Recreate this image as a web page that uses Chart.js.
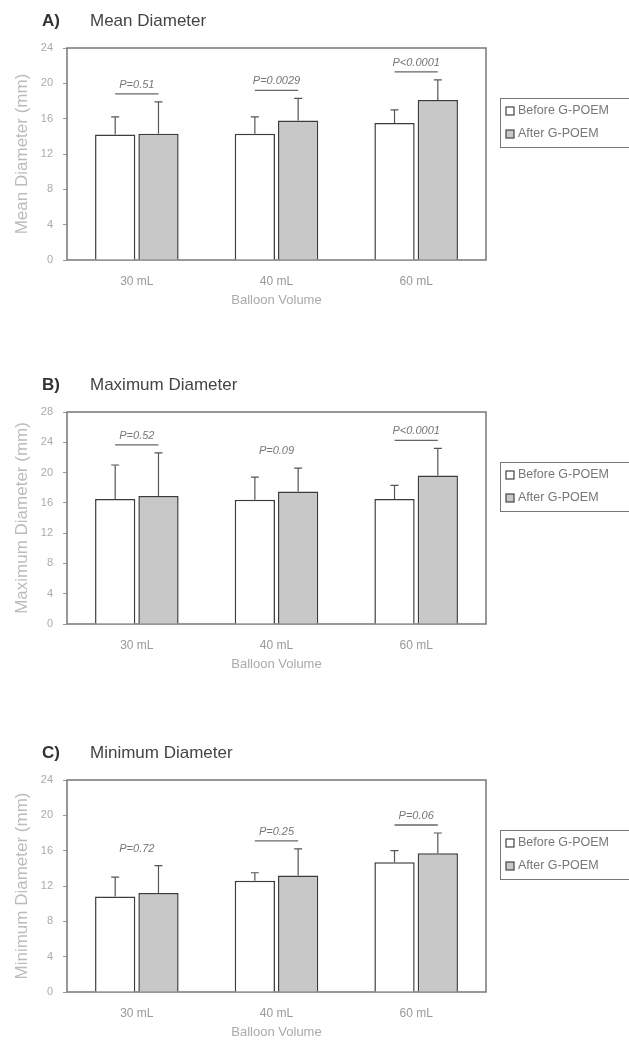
<!DOCTYPE html>
<html>
<head>
<meta charset="utf-8">
<script src="https://cdn.jsdelivr.net/npm/chart.js@4.4.1/dist/chart.umd.min.js"></script>
<style>
  html, body { margin: 0; padding: 0; background: #fff; }
  body { width: 629px; height: 1051px; position: relative; overflow: hidden; }
  .panel { position: absolute; left: 0; width: 629px; height: 322px; }
</style>
</head>
<body>
<div class="panel" style="top:0px"><canvas id="chartMean" width="629" height="322"></canvas></div>
<div class="panel" style="top:364px"><canvas id="chartMax" width="629" height="322"></canvas></div>
<div class="panel" style="top:732px"><canvas id="chartMin" width="629" height="322"></canvas></div>
<script>
// Balloon volumes and series
const volumes = ['30 mL', '40 mL', '60 mL'];
const seriesNames = ['Before G-POEM', 'After G-POEM'];
const xAxisTitle = 'Balloon Volume';

// Mean diameter (mm): means and standard deviations
const meanBefore = [14.2, 14.3, 15.5];
const meanBeforeSD = [2.0, 1.9, 1.5];
const meanAfter = [14.3, 15.8, 18.1];
const meanAfterSD = [3.6, 2.5, 2.3];
const meanP = ['P=0.51', 'P=0.0029', 'P<0.0001'];
const meanPLine = [true, true, true];

// Maximum diameter (mm)
const maxBefore = [16.5, 16.4, 16.5];
const maxBeforeSD = [4.5, 3.0, 1.8];
const maxAfter = [16.9, 17.5, 19.6];
const maxAfterSD = [5.7, 3.1, 3.6];
const maxP = ['P=0.52', 'P=0.09', 'P<0.0001'];
const maxPLine = [true, false, true];

// Minimum diameter (mm)
const minBefore = [10.8, 12.6, 14.7];
const minBeforeSD = [2.2, 0.9, 1.3];
const minAfter = [11.2, 13.2, 15.7];
const minAfterSD = [3.1, 3.0, 2.3];
const minP = ['P=0.72', 'P=0.25', 'P=0.06'];
const minPLine = [false, true, true];

// Y axis ranges
const meanYMax = 24, maxYMax = 28, minYMax = 24;
const yStep = 4;

const FONT = 'Arial, "Liberation Sans", sans-serif';

// Panel heading, e.g. "A)  Mean Diameter"
const headingPlugin = {
  id: 'heading',
  afterDraw(chart, args, opts) {
    const ctx = chart.ctx;
    ctx.save();
    ctx.fillStyle = '#333';
    ctx.textBaseline = 'middle';
    ctx.font = 'bold 17px ' + FONT;
    ctx.fillText(opts.letter, 42, opts.y);
    ctx.font = '17px ' + FONT;
    ctx.fillStyle = '#444';
    ctx.fillText(opts.text, 90, opts.y);
    ctx.restore();
  }
};

// Plot frame, error bars and P-value annotations
const annotatePlugin = {
  id: 'annotate',
  beforeDatasetsDraw(chart) {
    const a = chart.chartArea, ctx = chart.ctx;
    ctx.save();
    ctx.strokeStyle = '#777';
    ctx.lineWidth = 1.5;
    ctx.strokeRect(a.left, a.top, a.right - a.left, a.bottom - a.top);
    ctx.restore();
  },
  afterDatasetsDraw(chart, args, opts) {
    const ctx = chart.ctx, y = chart.scales.y;
    ctx.save();
    ctx.strokeStyle = '#555';
    ctx.lineWidth = 1.2;
    const tops = [];
    chart.data.datasets.forEach((ds, di) => {
      const meta = chart.getDatasetMeta(di);
      meta.data.forEach((bar, i) => {
        const yTop = y.getPixelForValue(ds.data[i] + ds.sd[i]);
        ctx.beginPath();
        ctx.moveTo(bar.x, bar.y);
        ctx.lineTo(bar.x, yTop);
        ctx.moveTo(bar.x - 4, yTop);
        ctx.lineTo(bar.x + 4, yTop);
        ctx.stroke();
        tops[i] = tops[i] === undefined ? yTop : Math.min(tops[i], yTop);
      });
    });
    // P values above each pair
    const m0 = chart.getDatasetMeta(0), m1 = chart.getDatasetMeta(1);
    ctx.fillStyle = '#777';
    ctx.font = 'italic 11px ' + FONT;
    ctx.textAlign = 'center';
    ctx.textBaseline = 'middle';
    opts.labels.forEach((txt, i) => {
      const x0 = m0.data[i].x, x1 = m1.data[i].x;
      const cx = (x0 + x1) / 2;
      ctx.fillText(txt, cx, tops[i] - 17);
      if (opts.underline[i]) {
        ctx.beginPath();
        ctx.strokeStyle = '#666';
        ctx.lineWidth = 1.3;
        ctx.moveTo(x0, tops[i] - 8);
        ctx.lineTo(x1, tops[i] - 8);
        ctx.stroke();
      }
    });
    ctx.restore();
  }
};

// Boxed legend to the right of the plot
const boxLegendPlugin = {
  id: 'boxLegend',
  afterDraw(chart) {
    const a = chart.chartArea, ctx = chart.ctx;
    const x0 = a.right + 14, y0 = a.top + 50, w = 135, h = 49;
    ctx.save();
    ctx.strokeStyle = '#777';
    ctx.lineWidth = 1;
    ctx.strokeRect(x0 + 0.5, y0 + 0.5, w, h);
    ctx.font = '12.5px ' + FONT;
    ctx.textBaseline = 'middle';
    chart.data.datasets.forEach((ds, i) => {
      const cy = y0 + 13 + i * 23;
      ctx.fillStyle = ds.backgroundColor;
      ctx.fillRect(x0 + 6, cy - 4, 8, 8);
      ctx.strokeStyle = '#444';
      ctx.lineWidth = 1.2;
      ctx.strokeRect(x0 + 6, cy - 4, 8, 8);
      ctx.fillStyle = '#777';
      ctx.fillText(ds.label, x0 + 18, cy);
    });
    ctx.restore();
  }
};

function makePanel(id, letter, heading, yTitle, yMax, before, beforeSD, after, afterSD, pLabels, pLine) {
  new Chart(document.getElementById(id), {
    type: 'bar',
    data: {
      labels: volumes,
      datasets: [
        { label: seriesNames[0], data: before, sd: beforeSD,
          backgroundColor: '#ffffff', borderColor: '#3c3c3c', borderWidth: 1.5,
          borderSkipped: 'bottom', categoryPercentage: 0.62, barPercentage: 0.93 },
        { label: seriesNames[1], data: after, sd: afterSD,
          backgroundColor: '#c8c8c8', borderColor: '#3c3c3c', borderWidth: 1.5,
          borderSkipped: 'bottom', categoryPercentage: 0.62, barPercentage: 0.93 }
      ]
    },
    options: {
      responsive: false,
      animation: false,
      events: [],
      layout: { padding: { top: 48, right: 143, bottom: 0, left: 0 } },
      plugins: {
        legend: { display: false },
        tooltip: { enabled: false },
        heading: { letter: letter, text: heading, y: 21 },
        annotate: { labels: pLabels, underline: pLine }
      },
      scales: {
        x: {
          grid: { display: false },
          border: { display: false },
          ticks: { color: '#999', font: { family: FONT, size: 12 }, padding: 6 },
          title: { display: true, text: xAxisTitle, color: '#aaa',
                   font: { family: FONT, size: 13 }, padding: { top: 2, bottom: 14 } },
          afterFit(s) { s.height = 62; }
        },
        y: {
          min: 0, max: yMax,
          grid: { display: true, drawOnChartArea: false, drawTicks: true, tickLength: 4, color: '#999' },
          border: { display: false },
          ticks: { stepSize: yStep, color: '#aaa', font: { family: FONT, size: 11 }, padding: 10 },
          title: { display: true, text: yTitle, color: '#bbb',
                   font: { family: FONT, size: 17 }, padding: { top: 12, bottom: 0 } },
          afterFit(s) { s.width = 67; }
        }
      }
    },
    plugins: [headingPlugin, annotatePlugin, boxLegendPlugin]
  });
}

makePanel('chartMean', 'A)', 'Mean Diameter', 'Mean Diameter (mm)', meanYMax,
  meanBefore, meanBeforeSD, meanAfter, meanAfterSD, meanP, meanPLine);
makePanel('chartMax', 'B)', 'Maximum Diameter', 'Maximum Diameter (mm)', maxYMax,
  maxBefore, maxBeforeSD, maxAfter, maxAfterSD, maxP, maxPLine);
makePanel('chartMin', 'C)', 'Minimum Diameter', 'Minimum Diameter (mm)', minYMax,
  minBefore, minBeforeSD, minAfter, minAfterSD, minP, minPLine);
</script>
</body>
</html>
